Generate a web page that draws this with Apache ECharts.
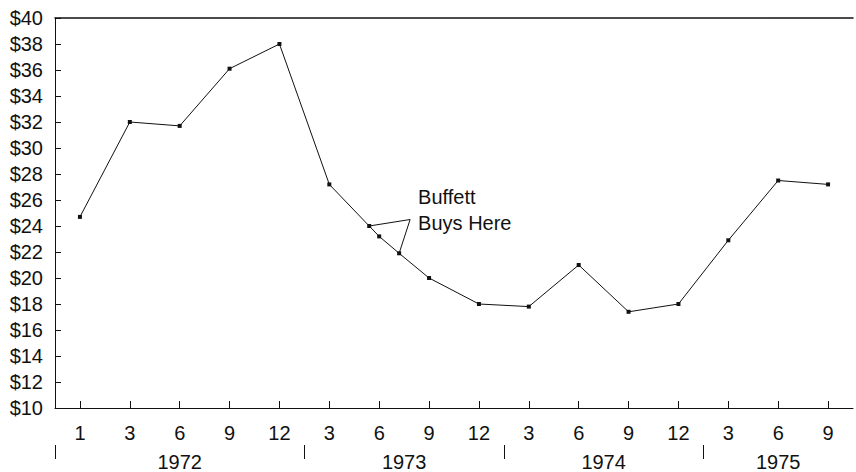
<!DOCTYPE html>
<html>
<head>
<meta charset="utf-8">
<script src="https://cdn.jsdelivr.net/npm/echarts@6/dist/echarts.min.js"></script>
<style>
html,body{margin:0;padding:0;background:#fff;}
#c{width:856px;height:472px;}
</style>
</head>
<body>
<div id="c"></div>
<script>
// ---- data ----
const monthLabels = ['1','3','6','9','12','3','6','9','12','3','6','9','12','3','6','9'];
const years = ['1972','1973','1974','1975'];
const yearStartSlot = [0, 5, 9, 13];           // slot where each year begins
const slotCount = 16;
// price points: slot (month-label index, fractional for between-label points) and price
const pointSlot  = [0, 1, 2, 3, 4, 5, 5.8, 6, 6.4, 7, 8, 9, 10, 11, 12, 13, 14, 15];
const pointPrice = [24.7, 32.0, 31.7, 36.1, 38.0, 27.2, 24.0, 23.2, 21.9, 20.0, 18.0, 17.8, 21.0, 17.4, 18.0, 22.9, 27.5, 27.2];
// annotation
const annotationText = 'Buffett\nBuys Here';
const annotationAnchor = [6.62, 24.5];
const annotationTargets = [6, 8]; // indices of points the callout touches

// ---- build ----
const ink = '#111';
const font = "'Liberation Sans', Arial, Helvetica, sans-serif";
const mainData = pointSlot.map((s, i) => [s, pointPrice[i]]);

// year axis: half-slot categories from 0 to slotCount
const halfCats = [];
for (let k = 0; k <= slotCount * 2; k++) halfCats.push(String(k / 2));
const yearLabelAt = {};
years.forEach((y, i) => {
  const start = yearStartSlot[i];
  const end = i + 1 < yearStartSlot.length ? yearStartSlot[i + 1] : slotCount;
  yearLabelAt[(start + end)] = y;
});
const yearCats = halfCats.map((c, k) => yearLabelAt[k] || '');
const sepIdx = yearStartSlot.map(s => s * 2);

const calloutData = [
  mainData[annotationTargets[0]],
  annotationAnchor,
  mainData[annotationTargets[1]]
];

const chart = echarts.init(document.getElementById('c'), null, { renderer: 'svg' });
chart.setOption({
  backgroundColor: '#fff',
  animation: false,
  grid: { left: 55, right: 0, top: 18, bottom: 64 },
  xAxis: [
    { // month labels
      type: 'category', data: monthLabels, position: 'bottom', boundaryGap: true,
      axisLine: { show: true, onZero: false, lineStyle: { color: ink, width: 1 } },
      axisTick: { show: true, alignWithLabel: true, inside: true, length: 7, lineStyle: { color: ink } },
      axisLabel: { color: ink, fontSize: 20, fontFamily: font, margin: 15, interval: 0 },
      splitLine: { show: false }
    },
    { // year labels with separators
      type: 'category', data: yearCats, position: 'bottom', offset: 37, boundaryGap: false,
      axisLine: { show: false, onZero: false },
      axisTick: { show: true, inside: false, length: 14, lineStyle: { color: ink },
        interval: (idx) => sepIdx.indexOf(idx) >= 0 },
      axisLabel: { color: ink, fontSize: 20, fontFamily: font, margin: 7, interval: 0 },
      splitLine: { show: false }
    },
    { // value axis for data placement, drawn as the top frame line
      type: 'value', min: -0.5, max: slotCount - 0.5, position: 'top',
      axisLine: { show: true, onZero: false, lineStyle: { color: ink, width: 1.5 } },
      axisTick: { show: false }, axisLabel: { show: false }, splitLine: { show: false }
    }
  ],
  yAxis: {
    type: 'value', min: 10, max: 40, interval: 2, position: 'left',
    axisLine: { show: true, onZero: false, lineStyle: { color: ink, width: 1 } },
    axisTick: { show: true, inside: true, length: 6, lineStyle: { color: ink } },
    axisLabel: { color: ink, fontSize: 20, fontFamily: font, margin: 12, formatter: v => '$' + v },
    splitLine: { show: false }
  },
  series: [
    {
      type: 'line', xAxisIndex: 2, data: mainData,
      symbol: 'rect', symbolSize: 4, showSymbol: true,
      lineStyle: { color: ink, width: 1 }, itemStyle: { color: ink },
      clip: false
    },
    {
      type: 'line', xAxisIndex: 2, data: calloutData,
      symbol: 'none', showSymbol: false,
      lineStyle: { color: ink, width: 1 }, itemStyle: { color: ink },
      clip: false, z: 1
    },
    {
      type: 'scatter', xAxisIndex: 2, data: [annotationAnchor],
      symbolSize: 0, itemStyle: { color: ink, opacity: 1 },
      label: { show: true, formatter: annotationText, position: 'right', distance: 0, offset: [8, -10],
        color: ink, opacity: 1, fontSize: 20, fontFamily: font, lineHeight: 26, align: 'left' },
      silent: true
    }
  ]
});
</script>
</body>
</html>
